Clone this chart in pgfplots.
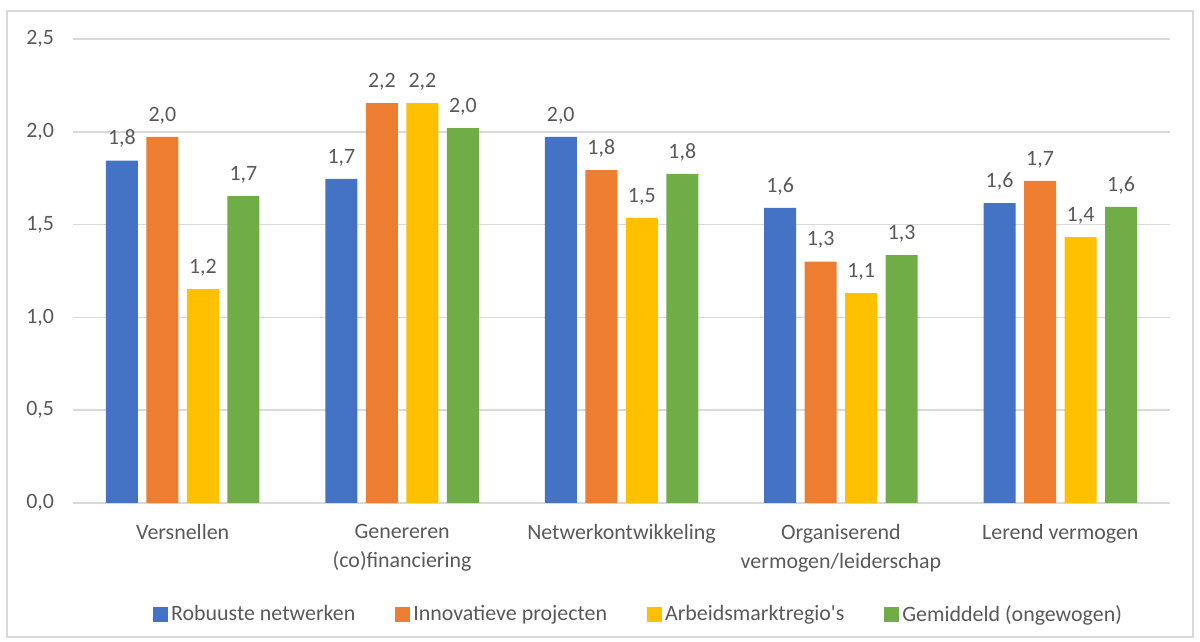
\documentclass[border=0pt]{standalone}
\usepackage{fontspec}
\setmainfont{Carlito}
\usepackage{pgfplots}
\pgfplotsset{compat=1.18}

\definecolor{cBlue}{HTML}{4472C4}
\definecolor{cOrange}{HTML}{ED7D31}
\definecolor{cYellow}{HTML}{FFC000}
\definecolor{cGreen}{HTML}{70AD47}
\definecolor{txt}{HTML}{595959}
\definecolor{gridc}{HTML}{D9D9D9}

\begin{document}
\begin{tikzpicture}
\useasboundingbox (0,0) rectangle (600bp,321bp);
\draw[gridc, line width=0.75bp] (3.5bp,2.5bp) rectangle (596.5bp,315.5bp);
\begin{axis}[
    at={(36.5bp,69.5bp)}, anchor=south west,
    scale only axis,
    width=548.5bp, height=232bp,
    ybar=4.25bp,
    bar width=16bp,
    ymin=0, ymax=2.5,
    ytick={0,0.5,...,2.5},
    xmin=-0.5, xmax=4.5,
    xtick=data,
    xticklabels={Versnellen, {Genereren\\(co)financiering}, Netwerkontwikkeling, {Organiserend\\vermogen/leiderschap}, Lerend vermogen},
    xticklabel style={align=center, text=txt, font=\fontsize{11}{14.5}\selectfont, yshift=-7bp},
    yticklabel style={text=txt, font=\fontsize{11}{12}\selectfont, xshift=-6bp,
        /pgf/number format/.cd, use comma, fixed, fixed zerofill, precision=1, assume math mode=true},
    major tick length=0pt,
    ymajorgrids,
    grid style={gridc, line width=0.75bp},
    axis lines*=left,
    y axis line style={draw=none},
    x axis line style={gridc, line width=0.75bp, -},
    nodes near coords,
    every node near coord/.append style={text=txt, font=\fontsize{11}{12}\selectfont, yshift=3bp,
        /pgf/number format/.cd, use comma, fixed, fixed zerofill, precision=1, assume math mode=true},
    legend style={at={(0.516,-0.241)}, anchor=center, draw=none, fill=none,
        legend columns=4, font=\fontsize{11}{12}\selectfont, text=txt,
        /tikz/every even column/.append style={column sep=18.5bp},
        nodes={inner sep=1.5bp}},
    legend image code/.code={\fill[#1] (0bp,-3.75bp) rectangle (7.5bp,3.75bp);},
]
\addplot[fill=cBlue, draw=none] coordinates {(0,1.845) (1,1.746) (2,1.972) (3,1.590) (4,1.616)};
\addplot[fill=cOrange, draw=none] coordinates {(0,1.972) (1,2.155) (2,1.794) (3,1.300) (4,1.735)};
\addplot[fill=cYellow, draw=none] coordinates {(0,1.153) (1,2.155) (2,1.536) (3,1.131) (4,1.433)};
\addplot[fill=cGreen, draw=none] coordinates {(0,1.654) (1,2.020) (2,1.773) (3,1.336) (4,1.595)};
\legend{Robuuste netwerken, Innovatieve projecten, Arbeidsmarktregio\textquotesingle s, Gemiddeld (ongewogen)}
\end{axis}
\end{tikzpicture}
\end{document}
